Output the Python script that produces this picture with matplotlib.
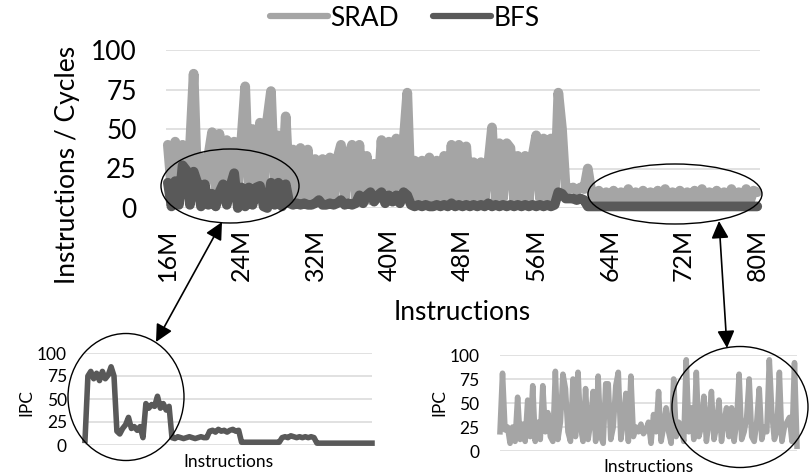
import numpy as np
import matplotlib
matplotlib.use("Agg")
import matplotlib.pyplot as plt
from matplotlib.patches import Ellipse

plt.rcParams['font.family'] = ['Lato', 'DejaVu Sans']

# main chart: instructions per cycle, 16M .. 80M
srad = [40, 12, 42, 14, 40, 12, 38, 85, 14, 32,
        10, 33, 48, 12, 47, 10, 43, 14, 42, 12,
        44, 77, 12, 50, 14, 54, 14, 56, 74, 14,
        46, 12, 58, 10, 37, 6, 38, 5, 37, 6,
        31, 5, 31, 6, 32, 5, 31, 40, 6, 33,
        40, 5, 40, 6, 33, 5, 28, 6, 43, 5,
        42, 6, 44, 5, 42, 73, 6, 30, 5, 30,
        6, 32, 5, 30, 6, 33, 5, 40, 6, 40,
        5, 39, 6, 29, 5, 29, 6, 28, 51, 5,
        41, 6, 41, 38, 5, 33, 6, 33, 5, 33,
        46, 6, 44, 5, 44, 6, 73, 50, 12, 12,
        13, 11, 13, 12, 25, 10, 3, 11, 4, 10,
        3, 11, 4, 10, 3, 12, 4, 10, 3, 11,
        4, 10, 3, 11, 4, 12, 3, 10, 4, 11,
        3, 10, 4, 11, 3, 12, 4, 10, 3, 11,
        4, 10, 3, 12, 4, 10, 3, 12, 4, 11,
        10]
bfs = [16, 1, 17, 2, 27, 24, 2, 23, 16, 1,
       15, 2, 9, 1, 10, 15, 2, 14, 22, 0,
       13, 1, 13, 2, 13, 14, 1, 0, 16, 2,
       16, 1, 15, 3, 2, 3, 2, 3, 2, 2,
       3, 5, 2, 2, 3, 2, 3, 5, 2, 3,
       2, 3, 8, 3, 8, 10, 4, 8, 10, 3,
       8, 4, 8, 3, 10, 8, 2, 1, 2, 1,
       2, 1, 1, 2, 1, 2, 1, 3, 1, 2,
       1, 2, 1, 2, 1, 2, 1, 3, 1, 2,
       1, 2, 1, 2, 1, 2, 1, 2, 1, 2,
       1, 2, 1, 2, 1, 2, 10, 9, 6, 6,
       6, 5, 6, 5, 1, 1, 1, 1, 1, 1,
       1, 1, 1, 1, 1, 1, 1, 1, 1, 1,
       1, 1, 1, 1, 1, 1, 1, 1, 1, 1,
       1, 1, 1, 1, 1, 1, 1, 1, 1, 1,
       1, 1, 1, 1, 1, 1, 1, 1, 1, 1,
       1]
instr = np.linspace(16, 80, len(srad))
xticks = [16, 24, 32, 40, 48, 56, 64, 72, 80]
xticklabels = ["16M", "24M", "32M", "40M", "48M", "56M", "64M", "72M", "80M"]
yticks = [0, 25, 50, 75, 100]

# zoomed views
bfs_zoom = [5,
            75, 80, 72, 78, 70, 80, 72, 76, 85, 75,
            15, 12, 18, 22, 30, 18, 20, 16, 20, 8,
            45, 40, 44, 42, 53, 40, 45, 38, 42,
            8,
            7, 9, 8, 7, 8, 9, 8, 7, 8, 9, 8, 8,
            15, 16, 14, 17, 15, 16, 14, 16, 17, 15, 16,
            3, 3, 3, 3, 3, 3, 3, 3, 3, 3, 3, 3, 3, 3,
            8, 9, 8, 10, 9, 8, 9, 8, 9, 8, 9, 8,
            2, 2, 2, 2, 2, 2, 2, 2, 2, 2, 2, 2, 2, 2, 2, 2, 2, 2, 2, 2]
srad_zoom = [20, 81, 22, 25, 8, 25, 10, 56, 12, 28,
             10, 53, 15, 68, 10, 30, 12, 68, 20, 40,
             15, 10, 83, 12, 30, 80, 65, 20, 10, 75,
             15, 82, 25, 10, 65, 12, 30, 62, 10, 78,
             15, 8, 70, 70, 12, 25, 68, 82, 12, 30,
             60, 10, 78, 15, 25, 20, 28, 18, 22, 30,
             8, 38, 20, 62, 10, 25, 45, 20, 8, 75,
             15, 30, 25, 10, 95, 20, 45, 12, 82, 15,
             25, 57, 10, 30, 62, 12, 25, 53, 10, 30,
             45, 15, 45, 10, 30, 80, 12, 20, 35, 75,
             15, 10, 30, 65, 12, 25, 20, 95, 40, 12,
             20, 82, 10, 25, 30, 35, 10, 92, 5]

c_srad = "#a5a5a5"
c_bfs = "#595959"
c_grid = "#d9d9d9"
W, H = 809, 476

fig = plt.figure(figsize=(W / 100, H / 100), dpi=100)


def box(l, t, r, b):
    return [l / W, 1 - b / H, (r - l) / W, (b - t) / H]


def style(ax, size, pad):
    ax.set_ylim(0, 100)
    ax.set_yticks(yticks)
    ax.grid(axis="y", color=c_grid, lw=1.1)
    ax.set_axisbelow(True)
    for s in ax.spines.values():
        s.set_visible(False)
    ax.tick_params(axis="y", length=0, labelsize=size, pad=pad)


# main chart
ax = fig.add_axes(box(166, 50, 760, 208))
ax.plot(instr, srad, color=c_srad, lw=7, label="SRAD",
        solid_capstyle="round", solid_joinstyle="round", clip_on=False)
ax.plot(instr, bfs, color=c_bfs, lw=7, label="BFS",
        solid_capstyle="round", solid_joinstyle="round", clip_on=False)
style(ax, 19, 21)
ax.set_xlim(15.8, 80.3)
ax.set_xticks(xticks)
ax.set_xticklabels(xticklabels, rotation=90)
ax.tick_params(axis="x", length=0, labelsize=18, pad=15)
leg = fig.legend(loc="center", bbox_to_anchor=(405 / W, 1 - 18 / H), ncol=2,
                 frameon=False, fontsize=19, handlelength=2.2, handletextpad=0.1,
                 columnspacing=1.3)
for line in leg.get_lines():
    line.set_linewidth(4.5)
fig.text(67 / W, 1 - 165 / H, "Instructions / Cycles", rotation=90,
         ha="center", va="center", fontsize=19)
fig.text(462 / W, 1 - 313 / H, "Instructions", ha="center", va="center", fontsize=19)

# left zoom (BFS)
ax1 = fig.add_axes(box(85, 353, 372, 445))
ax1.plot(range(len(bfs_zoom)), bfs_zoom, color=c_bfs, lw=4, clip_on=False)
style(ax1, 12.5, 13)
ax1.set_xlim(0, len(bfs_zoom) - 1)
ax1.set_xticks([])
fig.text(26 / W, 1 - 402 / H, "IPC", rotation=90, ha="center", va="center", fontsize=12.5)
fig.text(228 / W, 1 - 462 / H, "Instructions", ha="center", va="center", fontsize=12.5)

# right zoom (SRAD)
ax2 = fig.add_axes(box(500, 355, 797, 451))
ax2.plot(range(len(srad_zoom)), srad_zoom, color=c_srad, lw=4, clip_on=False)
style(ax2, 12.5, 15)
ax2.set_xlim(0, len(srad_zoom) - 1)
ax2.set_xticks([])
fig.text(439 / W, 1 - 402 / H, "IPC", rotation=90, ha="center", va="center", fontsize=12.5)
fig.text(648 / W, 1 - 467 / H, "Instructions", ha="center", va="center", fontsize=12.5)

# callouts in pixel coordinates
ov = fig.add_axes([0, 0, 1, 1], zorder=10)
ov.set_xlim(0, W)
ov.set_ylim(H, 0)
ov.axis("off")
ov.patch.set_visible(False)
for cx, cy, w, h in [(230, 186, 138, 74), (675, 194, 174, 60),
                     (126, 397, 116, 127), (740, 407, 136, 121)]:
    ov.add_patch(Ellipse((cx, cy), w, h, fill=False, ec="black", lw=1.0))
for (x0, y0), (x1, y1) in [((222, 222), (156, 342)), ((719, 221), (727, 348))]:
    ov.annotate("", xy=(x1, y1), xytext=(x0, y0),
                arrowprops=dict(arrowstyle="<|-|>,head_length=0.7,head_width=0.35",
                                color="black", lw=1.2, mutation_scale=15,
                                shrinkA=0, shrinkB=0))

plt.savefig("out.png", dpi=100)
